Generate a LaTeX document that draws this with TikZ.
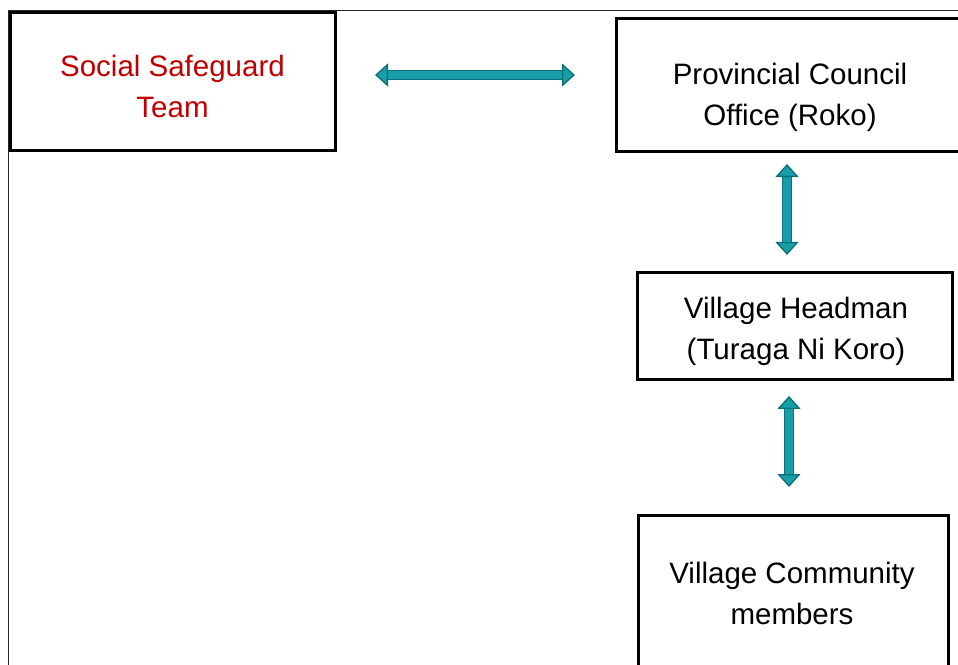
\documentclass[tikz,border=0pt]{standalone}
\usepackage{fontspec}
\setmainfont{Liberation Sans}
\usetikzlibrary{arrows.meta,calc}
\definecolor{safered}{RGB}{192,0,0}
\definecolor{linkfill}{RGB}{24,158,168}
\definecolor{linkedge}{RGB}{12,112,120}
\tikzset{
  box/.style={draw=black, line width=3pt, rectangle, outer sep=0pt, inner sep=0pt, fill=white},
  caption/.style={font=\fontsize{29.5pt}{41pt}\selectfont, align=center, anchor=base, inner sep=0pt},
  link/.style={line width=8pt, draw=linkfill,
    arrows={Triangle[width=23pt,length=13pt,fill=linkfill,color=linkedge,line width=1.3pt]-Triangle[width=23pt,length=13pt,fill=linkfill,color=linkedge,line width=1.3pt]},
    preaction={draw=linkedge, line width=10.5pt, arrows=-, shorten <=10pt, shorten >=10pt}}
}
\begin{document}
\begin{tikzpicture}[x=1pt, y=-1pt]
  \useasboundingbox (0,0) rectangle (958,664);
  \clip (0,0) rectangle (958,664);
  \fill[white] (0,0) rectangle (958,664);

  % outer frame
  \draw[line width=1.6pt, black!85] (8.5,10.5) rectangle (980,690);

  % boxes
  \node[box, minimum width=325pt, minimum height=138pt] (ssg) at (172.5,81.7) {};
  \node[box, minimum width=348pt, minimum height=133.4pt] (pco) at (790,85) {};
  \node[box, minimum width=315.4pt, minimum height=107.3pt] (vh) at (795,326.3) {};
  \node[box, minimum width=310pt, minimum height=157pt] (vc) at (793.3,593.5) {};

  % captions (anchored at the baseline of their last line)
  \node[caption, text=safered] (ssgtext) at (172.5,117.5) {Social Safeguard\\Team};
  \node[caption] (pcotext) at (790,125) {Provincial Council\\Office (Roko)};
  \node[caption] (vhtext) at (796,359.5) {Village Headman\\(Turaga Ni Koro)};
  \node[caption] (vctext) at (792,624.5) {Village Community\\members};

  % two-way links
  \draw[link] ($(ssg.east)+(40,-6.7)$) -- ($(ssg.east -| pco.west)+(-41,-6.7)$);
  \draw[link] ($(pco.south)+(-3,12.3)$) -- ($(vh.north)+(-8,-17.7)$);
  \draw[link] ($(vh.south)+(-6,16)$) -- ($(vc.north)+(-4.3,-28)$);
\end{tikzpicture}
\end{document}
